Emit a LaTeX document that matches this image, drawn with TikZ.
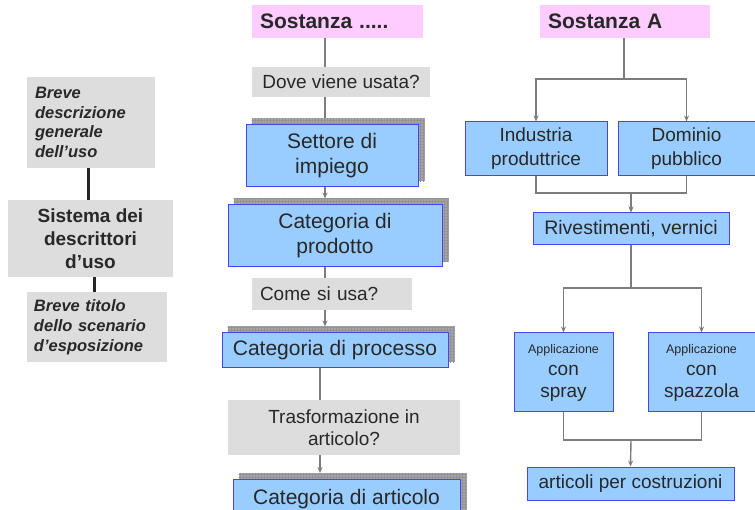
\documentclass[tikz,border=0pt]{standalone}
\usepackage{fontspec}
\setmainfont{Liberation Sans}
\usetikzlibrary{arrows.meta,backgrounds,patterns}
\definecolor{bluefill}{RGB}{153,204,255}
\definecolor{blueline}{RGB}{70,70,235}
\definecolor{pinkfill}{RGB}{255,204,255}
\definecolor{grayfill}{RGB}{221,221,221}
\definecolor{txt}{RGB}{40,40,40}
\definecolor{connc}{RGB}{125,125,125}
\definecolor{shadowc}{RGB}{165,165,165}
\begin{document}
\begin{tikzpicture}[x=1pt,y=-1pt,
  box/.style={rectangle, inner sep=0pt, align=center, text=txt},
  bluebox/.style={box, fill=bluefill, draw=blueline, line width=1pt},
  graybox/.style={box, fill=grayfill},
  pinkbox/.style={box, fill=pinkfill},
  bigf/.style={font=\fontsize{21}{25}\selectfont},
  midf/.style={font=\fontsize{19}{24}\selectfont},
  conn/.style={draw=connc, line width=1.4pt},
  arr/.style={conn, -{Stealth[length=6pt,width=5pt]}},
  leftconn/.style={draw=black!85, line width=3pt},
  shadowbox/.style={fill=shadowc},
  shadowgrid/.style={pattern=grid, pattern color=gray!85}
]
\useasboundingbox (0,0) rectangle (755,510);
\clip (0,0) rectangle (755,510);

% ---------- left column ----------
\node[graybox, minimum width=128pt, minimum height=91pt, text width=112pt, align=left,
      font=\fontsize{16.5}{19.5}\selectfont\bfseries\itshape] (b1) at (91,122.5)
  {Breve\\descrizione\\generale\\dell’uso};
\node[graybox, minimum width=165pt, minimum height=77pt,
      font=\fontsize{19}{23}\selectfont\bfseries] (b2) at (90.5,238.5)
  {Sistema dei\\descrittori\\d’uso};
\node[graybox, minimum width=140pt, minimum height=70pt, text width=126pt, align=left,
      font=\fontsize{16.5}{20}\selectfont\bfseries\itshape] (b3) at (97,327)
  {Breve titolo\\dello scenario\\d’esposizione};
\draw[leftconn] ([xshift=-3pt]b1.south) -- ([xshift=-3pt]b1.south |- b2.north);
\draw[leftconn] ([xshift=-3pt]b3.north |- b2.south) -- ([xshift=-3pt]b3.north);

% ---------- middle column ----------
\node[pinkbox, minimum width=171pt, minimum height=33pt, text width=155pt, align=left,
      font=\fontsize{21}{25}\selectfont\bfseries] (s1) at (337.5,21.5) {Sostanza .....};
\node[graybox, midf, minimum width=178pt, minimum height=30pt] (q1) at (341,82) {Dove viene usata?};
\node[bluebox, bigf, minimum width=172pt, minimum height=62pt] (c1) at (332,156) {Settore di\\impiego};
\node[bluebox, bigf, minimum width=214pt, minimum height=62pt] (c2) at (335,236) {Categoria di\\prodotto};
\node[graybox, midf, minimum width=160pt, minimum height=32pt, text width=144pt, align=left] (q2) at (332,294) {Come si usa?};
\node[bluebox, bigf, minimum width=226pt, minimum height=35pt] (c3) at (335,350.5) {Categoria di processo};
\node[graybox, font=\fontsize{19}{22}\selectfont, minimum width=232pt, minimum height=55pt] (q3) at (344,427.5) {Trasformazione in\\articolo?};
\node[bluebox, bigf, minimum width=227pt, minimum height=40pt, anchor=north] (c4) at (346.5,479) {\raisebox{4pt}{Categoria di articolo}};

\begin{scope}[on background layer]
  \foreach \n in {c1,c2,c3,c4}{
    \path[shadowbox] ([xshift=6pt,yshift=6pt]\n.south west) rectangle ([xshift=6pt,yshift=6pt]\n.north east);
    \path[shadowgrid] ([xshift=6pt,yshift=6pt]\n.south west) rectangle ([xshift=6pt,yshift=6pt]\n.north east);
  }
\end{scope}

\coordinate (m1) at (325,0);
\coordinate (m2) at (320,0);
\draw[conn] (s1.south -| m1) -- (q1.north -| m1);
\draw[conn] (q1.south -| m1) -- ([yshift=6pt]c1.north -| m1);
\draw[arr] (c1.south -| m1) -- ([yshift=6pt]c2.north -| m1);
\draw[conn] (c2.south -| m1) -- (q2.north -| m1);
\draw[arr] (q2.south -| m1) -- ([yshift=6pt]c3.north -| m1);
\draw[conn] (c3.south -| m2) -- (q3.north -| m2);
\draw[arr] (q3.south -| m2) -- ([yshift=6pt]c4.north -| m2);

% ---------- right column ----------
\node[pinkbox, minimum width=170pt, minimum height=33pt, text width=154pt, align=left,
      font=\fontsize{21}{25}\selectfont\bfseries] (sA) at (625,21.5) {Sostanza A};
\node[bluebox, midf, minimum width=142pt, minimum height=54pt] (ind) at (536,149) {Industria\\produttrice};
\node[bluebox, midf, minimum width=137pt, minimum height=54pt] (dom) at (686.5,149) {Dominio\\pubblico};
\node[bluebox, font=\fontsize{19.5}{24}\selectfont, minimum width=196pt, minimum height=32pt] (riv) at (631,229) {Rivestimenti, vernici};
\node[bluebox, font=\fontsize{19}{22}\selectfont, minimum width=99pt, minimum height=79pt] (spr) at (563.5,372.5)
  {{\fontsize{12.5}{14}\selectfont Applicazione}\\con\\spray};
\node[bluebox, font=\fontsize{19}{22}\selectfont, minimum width=107pt, minimum height=79pt] (spz) at (701.5,372.5)
  {{\fontsize{12.5}{14}\selectfont Applicazione}\\con\\spazzola};
\node[bluebox, midf, minimum width=207pt, minimum height=33pt] (art) at (630.5,483.5) {articoli per costruzioni};

\coordinate (j1) at (624,79);
\coordinate (j2) at (631,193);
\coordinate (j3) at (631,288);
\coordinate (j4) at (631,440);
\draw[conn] (sA.south -| j1) -- (j1);
\draw[arr] (j1) -| (ind.north);
\draw[arr] (j1) -| (dom.north);
\draw[conn] (ind.south) |- (j2);
\draw[conn] (dom.south) |- (j2);
\draw[arr] (j2) -- (riv.north);
\draw[conn] (riv.south) -- (j3);
\draw[arr] (j3) -| (spr.north);
\draw[arr] (j3) -| (spz.north);
\draw[conn] (spr.south) |- (j4);
\draw[conn] (spz.south) |- (j4);
\draw[arr] (j4) -- (art.north);
\end{tikzpicture}
\end{document}
